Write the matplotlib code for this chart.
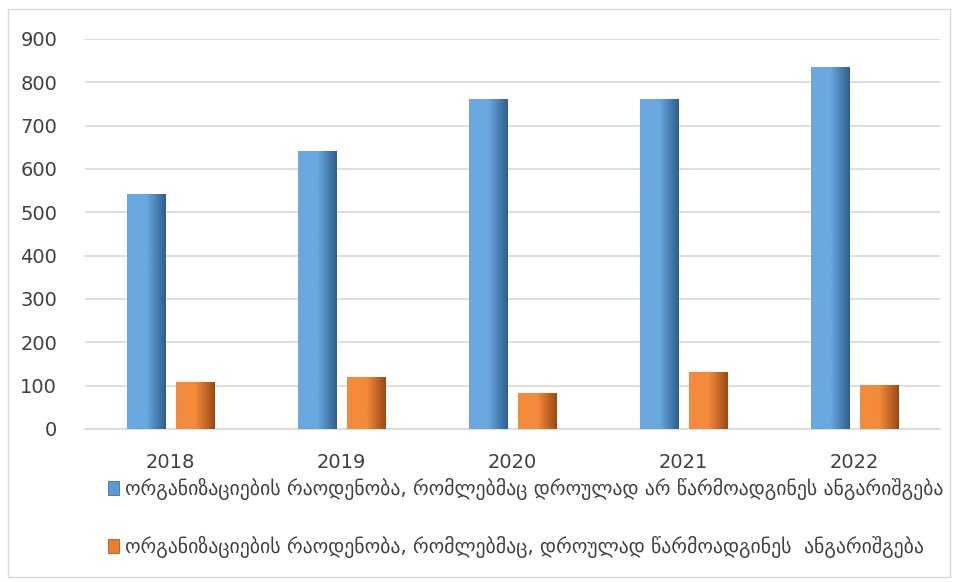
import numpy as np
import matplotlib.pyplot as plt
from matplotlib.patches import Rectangle
from matplotlib.colors import LinearSegmentedColormap

years = ["2018", "2019", "2020", "2021", "2022"]
late = [540, 640, 760, 760, 835]
on_time = [108, 120, 82, 130, 100]
label_late = "ორგანიზაციების რაოდენობა, რომლებმაც დროულად არ წარმოადგინეს ანგარიშგება"
label_on_time = "ორგანიზაციების რაოდენობა, რომლებმაც, დროულად წარმოადგინეს  ანგარიშგება"

fig = plt.figure(figsize=(9.56, 5.82), dpi=100)
ax = fig.add_axes([85 / 956, 1 - 429 / 582, 855 / 956, 390 / 582])

x = np.arange(len(years))
w = 0.225
b1 = ax.bar(x - 0.1425, late, w, color="#5B9BD5", edgecolor="#41719C", linewidth=0.6, zorder=3)
b2 = ax.bar(x + 0.1425, on_time, w, color="#ED7D31", edgecolor="#AE5A21", linewidth=0.6, zorder=3)

# soft shading across each bar, like the office 3d style
grad = np.linspace(0, 1, 50).reshape(1, -1)
for bars, c0, c1 in [(b1, "#6AA8E0", "#2F5F8F"), (b2, "#F48A3C", "#9C4A14")]:
    cmap = LinearSegmentedColormap.from_list("g", [c0, c0, c1])
    for r in bars:
        ax.imshow(grad, cmap=cmap, aspect="auto", zorder=4,
                  extent=(r.get_x(), r.get_x() + r.get_width(), 0, r.get_height()))

ax.set_xlim(-0.5, 4.5)
ax.set_ylim(0, 900)
ax.set_yticks(range(0, 901, 100))
ax.yaxis.grid(True, color="#D9D9D9", linewidth=1.2, zorder=0)
ax.set_xticks(x)
ax.set_xticklabels(years)
ax.tick_params(length=0, labelsize=14, colors="#404040", pad=20)
ax.tick_params(axis="x", pad=17)
for s in ["top", "right", "left"]:
    ax.spines[s].set_visible(False)
ax.spines["bottom"].set_color("#D9D9D9")
ax.spines["bottom"].set_linewidth(1.2)

fig.legend([b1, b2], [label_late, label_on_time], loc="upper left",
           bbox_to_anchor=(100 / 956, 1 - 470 / 582), frameon=False,
           fontsize=14.2, labelcolor="#404040", handlelength=0.55, handleheight=0.7,
           handletextpad=0.3, labelspacing=1.8, borderaxespad=0)

fig.patches.append(Rectangle((8 / 956, 5 / 582), 942 / 956, 568 / 582, transform=fig.transFigure,
                             fill=False, edgecolor="#D9D9D9", linewidth=1))

fig.savefig("out.png", dpi=100)
